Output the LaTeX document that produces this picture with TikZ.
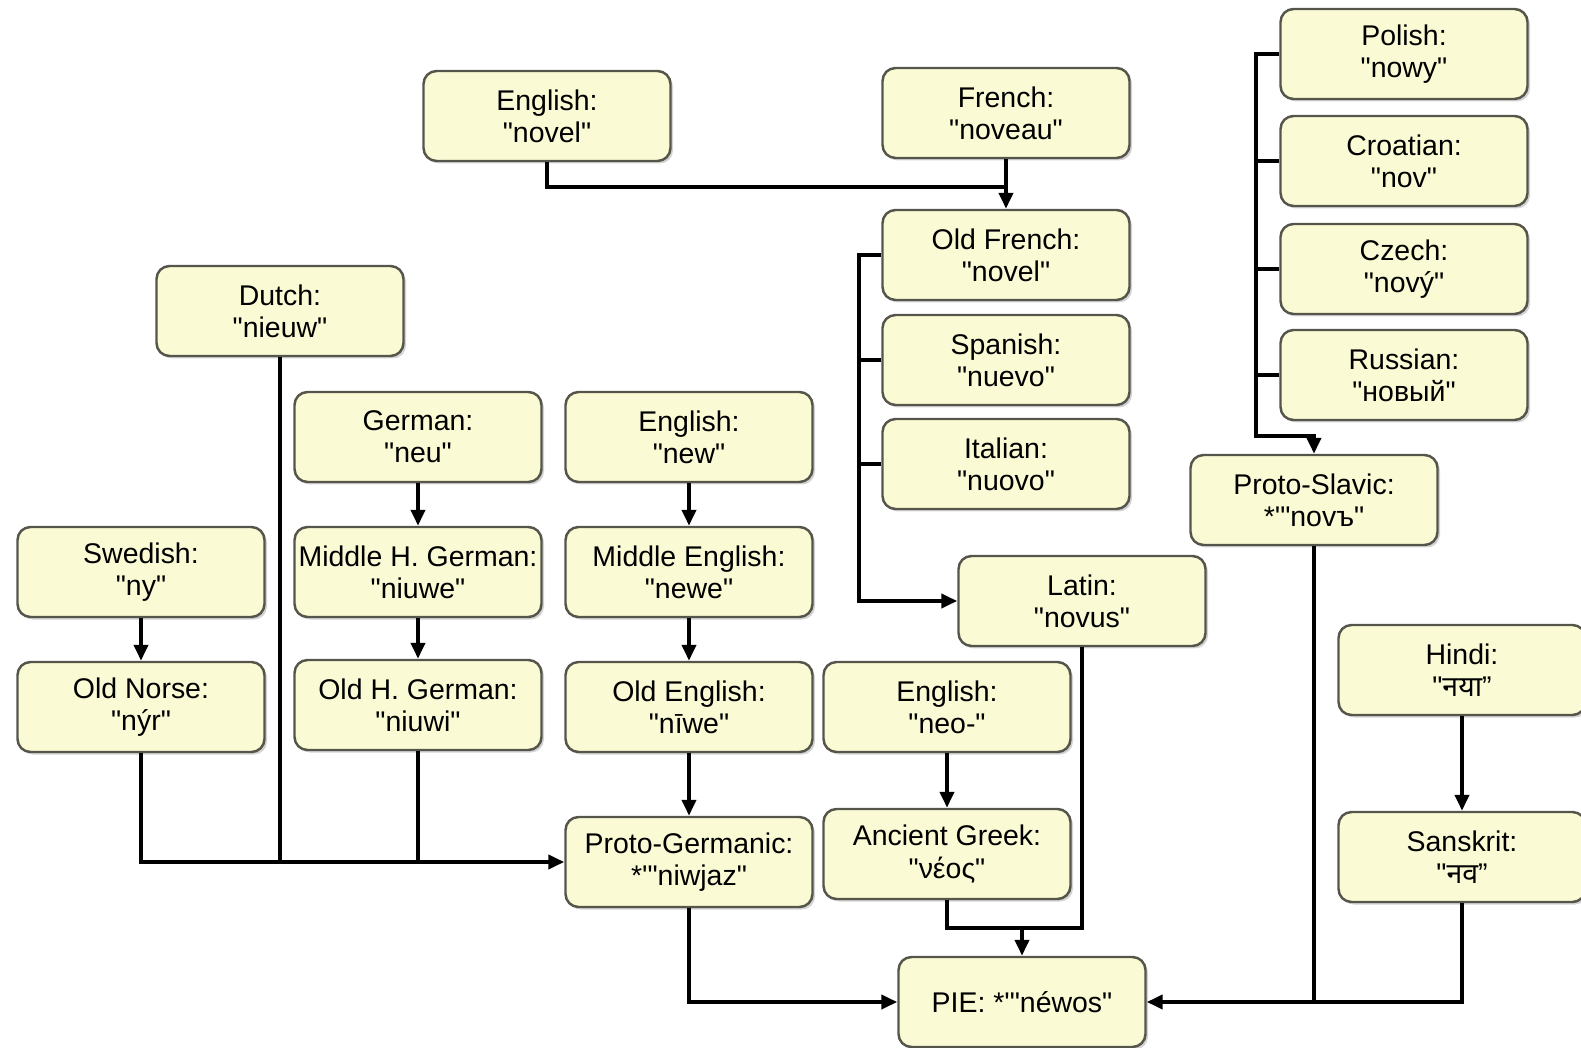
\documentclass[tikz,border=0pt]{standalone}
\usepackage{fontspec}
\setmainfont{Liberation Sans}[Ligatures=TeXOff]
\newfontfamily\hindifont[Script=Devanagari]{Noto Sans}
\usetikzlibrary{arrows.meta,shadows}
\definecolor{lgFill}{RGB}{250,250,212}
\definecolor{lgEdge}{RGB}{85,85,75}

\begin{document}
\begin{tikzpicture}[
  font=\fontsize{8.1pt}{9.2pt}\selectfont,
  box/.style={draw=lgEdge, fill=lgFill, line width=0.7pt, rounded corners=1.3mm,
    align=center, minimum width=2.47cm, minimum height=0.9cm, inner xsep=0.5pt,
    drop shadow={shadow xshift=0.25mm, shadow yshift=-0.25mm, opacity=0.35}},
  ln/.style={line width=1.1pt},
  ar/.style={ln, -{Triangle[length=1.6mm, width=1.4mm]}}
]
  \useasboundingbox (0,0) rectangle (15.81,-10.48);
  \node[box] (ennov) at (5.47, -1.16) {English:\\"novel"};
  \node[box] (frnov) at (10.06, -1.13) {French:\\"noveau"};
  \node[box] (ofr) at (10.06, -2.55) {Old French:\\"novel"};
  \node[box] (spa) at (10.06, -3.60) {Spanish:\\"nuevo"};
  \node[box] (ita) at (10.06, -4.64) {Italian:\\"nuovo"};
  \node[box] (pol) at (14.04, -0.54) {Polish:\\"nowy"};
  \node[box] (cro) at (14.04, -1.61) {Croatian:\\"nov"};
  \node[box] (cze) at (14.04, -2.69) {Czech:\\"nový"};
  \node[box] (rus) at (14.04, -3.75) {Russian:\\"новый"};
  \node[box] (psl) at (13.14, -5.00) {Proto-Slavic:\\*'"novъ"};
  \node[box] (dut) at (2.80, -3.11) {Dutch:\\"nieuw"};
  \node[box] (ger) at (4.18, -4.37) {German:\\"neu"};
  \node[box] (ennew) at (6.89, -4.37) {English:\\"new"};
  \node[box] (swe) at (1.41, -5.72) {Swedish:\\"ny"};
  \node[box] (mhg) at (4.18, -5.72) {Middle H. German:\\"niuwe"};
  \node[box] (men) at (6.89, -5.72) {Middle English:\\"newe"};
  \node[box] (lat) at (10.82, -6.01) {Latin:\\"novus"};
  \node[box] (hin) at (14.62, -6.70) {Hindi:\\"{\hindifont नया}”};
  \node[box] (ono) at (1.41, -7.07) {Old Norse:\\"nýr"};
  \node[box] (ohg) at (4.18, -7.05) {Old H. German:\\"niuwi"};
  \node[box] (oen) at (6.89, -7.07) {Old English:\\"nīwe"};
  \node[box] (enneo) at (9.47, -7.07) {English:\\"neo-"};
  \node[box] (pgm) at (6.89, -8.62) {Proto-Germanic:\\*'"niwjaz"};
  \node[box] (grk) at (9.47, -8.54) {Ancient Greek:\\"νέος"};
  \node[box] (san) at (14.62, -8.57) {Sanskrit:\\"{\hindifont नव}”};
  \node[box] (pie) at (10.22, -10.02) {PIE: *'"néwos"};
  \coordinate (jfr) at (10.06, -1.87);
  \coordinate (rb) at (8.59, -2.55);
  \coordinate (sb) at (12.56, -0.54);
  \coordinate (sj) at (12.56, -4.36);
  \coordinate (gj) at (10.22, -9.28);
  \draw[ar] (frnov) -- (ofr);
  \draw[ln] (ennov.south) |- (jfr);
  \draw[ar] (ofr.west) -- (rb) |- (lat.west);
  \draw[ln] (spa.west) -- (spa.west -| rb);
  \draw[ln] (ita.west) -- (ita.west -| rb);
  \draw[ar] (pol.west) -- (sb) -- (sj) -| (psl.north);
  \draw[ln] (cro.west) -- (cro.west -| sb);
  \draw[ln] (cze.west) -- (cze.west -| sb);
  \draw[ln] (rus.west) -- (rus.west -| sb);
  \draw[ar] (swe) -- (ono);
  \draw[ar] (ger) -- (mhg);
  \draw[ar] (mhg) -- (ohg);
  \draw[ar] (ennew) -- (men);
  \draw[ar] (men) -- (oen);
  \draw[ar] (oen) -- (pgm);
  \draw[ar] (enneo) -- (grk);
  \draw[ar] (hin) -- (san);
  \draw[ar] (ono.south) |- (pgm.west);
  \draw[ln] (dut.south) -- (dut.south |- pgm.west);
  \draw[ln] (ohg.south) -- (ohg.south |- pgm.west);
  \draw[ln] (grk.south) |- (gj) -| (lat.south);
  \draw[ar] (gj) -- (pie.north);
  \draw[ar] (pgm.south) |- (pie.west);
  \draw[ar] (psl.south) |- (pie.east);
  \draw[ln] (san.south) |- (pie.east -| psl.south);
\end{tikzpicture}
\end{document}
